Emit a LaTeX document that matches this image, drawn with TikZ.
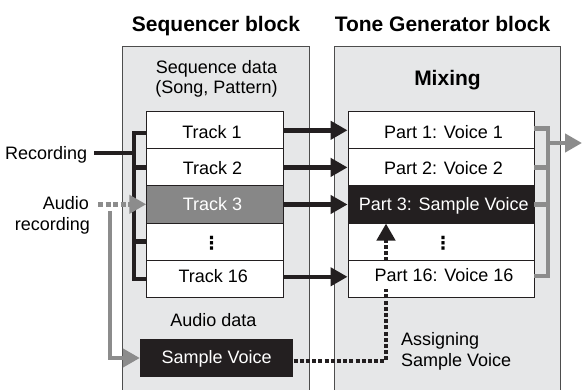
\documentclass[tikz,border=0pt]{standalone}
\usepackage{fontspec}
\setmainfont{Liberation Sans}
\newfontfamily\dotsfont{DejaVu Sans}
\usetikzlibrary{arrows.meta}
\definecolor{panelfill}{HTML}{E6E7E8}
\definecolor{ink}{HTML}{231F20}
\definecolor{edge}{HTML}{4D4D4D}
\definecolor{midgray}{HTML}{878787}
\definecolor{linegray}{HTML}{8C8C8C}
\begin{document}
\begin{tikzpicture}[x=1pt,y=-1pt,
  body/.style={font=\fontsize{18}{21}\selectfont},
  lab/.style={body,anchor=base,inner sep=0pt},
  dotlab/.style={font=\fontsize{18}{21}\selectfont\dotsfont\bfseries,anchor=center,inner sep=0pt},
  ttl/.style={font=\fontsize{21}{24}\selectfont\bfseries,anchor=base,inner sep=0pt},
  panelbox/.style={draw=edge,line width=1pt,fill=panelfill},
  cell/.style={draw=ink,line width=0.9pt,fill=white,minimum height=37.15pt,inner sep=0pt},
  trkcell/.style={cell,minimum width=136.6pt},
  partcell/.style={cell,minimum width=186pt},
  blk/.style={draw=ink,line width=4.5pt},
  tipk/.style={-{Triangle[length=17pt,width=18pt]}},
  gry/.style={draw=linegray,line width=4.5pt},
  dotk/.style={draw=ink,line width=4.5pt,dash pattern=on 4pt off 2.2pt},
  cover/.style={body,anchor=base,fill=white,inner xsep=1pt,inner ysep=0pt,text height=20pt,text depth=7pt},
]
\useasboundingbox (0,0) rectangle (582,390);

% panels
\path[panelbox] (122,47) rectangle (309,400);
\path[panelbox] (334,47) rectangle (560,400);

% titles
\node[ttl] (tseq) at (216,32) {Sequencer block};
\node[ttl] (ttg) at (442.5,32) {Tone Generator block};
\node[lab] (sd1) at (216.5,74) {Sequence data};
\node[lab] (sd2) at (216.5,94) {(Song, Pattern)};
\node[ttl] (mix) at (447.5,86) {Mixing};

% track cells
\node[trkcell] (t1) at (215,130.3) {};
\node[trkcell] (t2) at (215,167.4) {};
\node[trkcell,fill=midgray] (t3) at (215,204.5) {};
\node[trkcell] (t4) at (215,241.7) {};
\node[trkcell] (t16) at (215,278.8) {};

% part cells
\node[partcell] (p1) at (441,130.3) {};
\node[partcell] (p2) at (441,167.4) {};
\node[partcell,fill=ink] (p3) at (441,204.5) {};
\node[partcell] (p4) at (441,241.7) {};
\node[partcell] (p16) at (441,278.8) {};

% sample voice box
\node[fill=ink,minimum width=153.3pt,minimum height=37.4pt,inner sep=0pt] (sv) at (216.7,358) {};

% track -> part arrows
\draw[blk,tipk] (t1.east) -- (p1.west);
\draw[blk,tipk] (t2.east) -- (p2.west);
\draw[blk,tipk] (t3.east) -- (p3.west);
\draw[blk,tipk] ([yshift=2pt]t16.east) -- ([yshift=2pt]p16.west);

% left recording bracket
\coordinate (lb) at (134,153);
\coordinate (recs) at (94,153);
\draw[blk] ([yshift=-2.5pt]t1.west) -| (lb) |- (t16.west);
\draw[blk] (t2.west) -- (t2.west -| lb);
\draw[blk] (t4.west) -- (t4.west -| lb);
\draw[blk] (recs) -- (lb);

% audio recording
\coordinate (ads) at (98,204.3);
\coordinate (adb) at (110,211);
\draw[gry,dash pattern=on 5pt off 2.5pt,tipk] (ads) -- (ads -| t3.west);
\draw[gry,tipk] (adb) |- (sv.west);

% right mixing bracket
\coordinate (rb) at (548,143);
\coordinate (out) at (582,143);
\draw[gry] ([yshift=1.8pt]p1.east) -| (rb) |- ([yshift=2.8pt]p16.east);
\draw[gry] (p2.east) -- (p2.east -| rb);
\draw[gry] (p3.east) -- (p3.east -| rb);
\draw[gry,tipk] (rb) -- (out);

% assigning sample voice
\coordinate (dc) at (386,361);
\draw[dotk,tipk] (sv.east |- dc) -| (p3.south -| dc);

% labels
\node[lab] (t1l) at (212,138.3) {Track 1};
\node[lab] (t2l) at (212.5,174.3) {Track 2};
\node[lab,text=white] (t3l) at (212.5,210.3) {Track 3};
\node[dotlab] (t4l) at (211.7,243.5) {⋮};
\node[lab] (t16l) at (213.3,282.3) {Track 16};

\node[lab] (p1l) at (443.5,138.3) {Part 1: Voice 1};
\node[lab] (p2l) at (443.5,174.3) {Part 2: Voice 2};
\node[lab,text=white] (p3l) at (443.7,210.3) {Part 3: Sample Voice};
\node[dotlab] (p4l) at (443,243.5) {⋮};
\node[cover] (p16l) at (444,282) {Part 16: Voice 16};

\node[lab,anchor=base east] (rec) at (87.3,160) {Recording};
\node[lab,anchor=base east] (aud1) at (89,209.3) {Audio};
\node[lab,anchor=base east] (aud2) at (90,231) {recording};
\node[lab] (adl) at (213.5,327) {Audio data};
\node[lab,text=white] (svl) at (216.7,363.3) {Sample Voice};
\node[lab,anchor=base west] (as1) at (401,346) {Assigning};
\node[lab,anchor=base west] (as2) at (401,367) {Sample Voice};
\end{tikzpicture}
\end{document}
